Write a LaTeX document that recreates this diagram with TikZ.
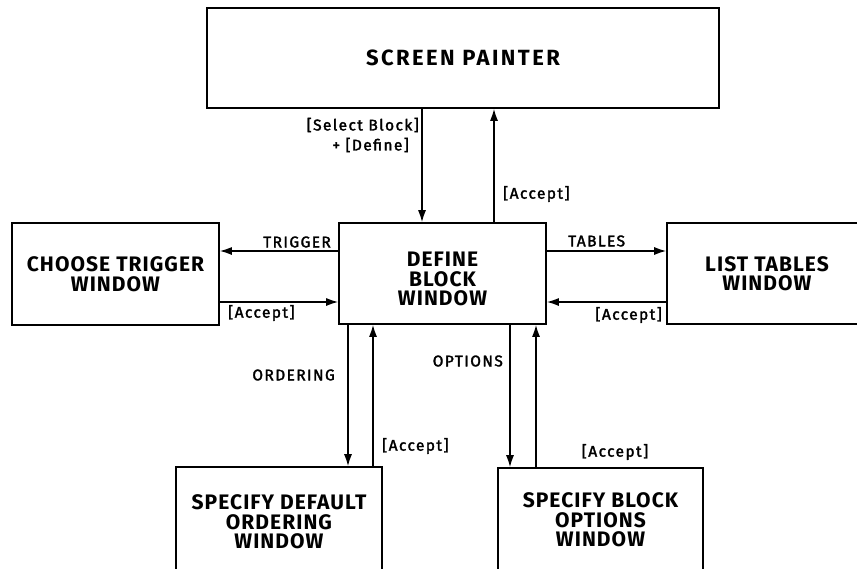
\documentclass[tikz,border=0pt]{standalone}
\usepackage{fontspec}
\setmainfont{Fira Sans}
\newfontfamily\titlefont{Fira Sans}[LetterSpace=5]
\newfontfamily\widetitlefont{Fira Sans}[LetterSpace=11]
\newfontfamily\labfont{Fira Sans}[LetterSpace=9,FakeBold=2]
\usetikzlibrary{arrows.meta}
\begin{document}
\begin{tikzpicture}[x=1pt,y=-1pt,
  box/.style={draw, line width=1.6pt, align=center, font=\titlefont\bfseries\fontsize{21}{19.5}\selectfont, inner sep=0pt, anchor=center},
  lab/.style={font=\labfont\fontsize{15.5}{20}\selectfont, inner sep=0pt},
  arr/.style={line width=1.5pt, -{Latex[length=12pt,width=8pt]}}]
\useasboundingbox (0,0) rectangle (857,568);
\clip (0,0) rectangle (857,568);
% boxes
\node[box, minimum width=512pt, minimum height=100pt, font=\widetitlefont\bfseries\fontsize{22}{19.5}\selectfont] (sp) at (463,58) {SCREEN PAINTER};
\node[box, minimum width=207pt, minimum height=102pt] (ct) at (115.5,274) {CHOOSE TRIGGER\\WINDOW};
\node[box, minimum width=207pt, minimum height=101pt] (db) at (442.5,273.5) {\rule{0pt}{26pt}DEFINE\\BLOCK\\WINDOW};
\node[box, minimum width=200pt, minimum height=101pt] (lt) at (767,273.5) {LIST TABLES\\WINDOW};
\node[box, minimum width=206pt, minimum height=105pt] (sd) at (279,519.5) {\rule{0pt}{20pt}SPECIFY DEFAULT\\ORDERING\\WINDOW};
\node[box, minimum width=205pt, minimum height=104pt] (sb) at (600.5,520) {SPECIFY BLOCK\\OPTIONS\\WINDOW};
% helper coordinates
\coordinate (xa) at (422,0);
\coordinate (xb) at (494,0);
\coordinate (xc) at (348,0);
\coordinate (xd) at (373,0);
\coordinate (xe) at (510,0);
\coordinate (xf) at (536,0);
\coordinate (ya) at (0,251);
\coordinate (yb) at (0,302);
% connectors
\draw[arr] (sp.south -| xa) -- (db.north -| xa);
\draw[arr] (db.north -| xb) -- (sp.south -| xb);
\draw[arr] (db.west |- ya) -- (ct.east |- ya);
\draw[arr] (ct.east |- yb) -- (db.west |- yb);
\draw[arr] (db.east |- ya) -- (lt.west |- ya);
\draw[arr] (lt.west |- yb) -- (db.east |- yb);
\draw[arr] (db.south -| xc) -- (sd.north -| xc);
\draw[arr] (sd.north -| xd) -- (db.south -| xd);
\draw[arr] (db.south -| xe) -- (sb.north -| xe);
\draw[arr] (sb.north -| xf) -- (db.south -| xf);
% labels
\node[lab, anchor=east, align=right] (l1) at (419,135) {[Select Block]\\+ [Define]\hspace*{10pt}};
\node[lab, anchor=west] (l2) at (503,194) {[Accept]};
\node[lab, anchor=east] (l3) at (331,242) {TRIGGER};
\node[lab, anchor=west] (l4) at (228,313) {[Accept]};
\node[lab, anchor=west] (l5) at (568,241) {TABLES};
\node[lab, anchor=east] (l6) at (662,315) {[Accept]};
\node[lab, anchor=east] (l7) at (335,375) {ORDERING};
\node[lab, anchor=east] (l8) at (503,361) {OPTIONS};
\node[lab, anchor=west] (l9) at (382,446) {[Accept]};
\node[lab] (l10) at (615,452) {[Accept]};
\end{tikzpicture}
\end{document}
